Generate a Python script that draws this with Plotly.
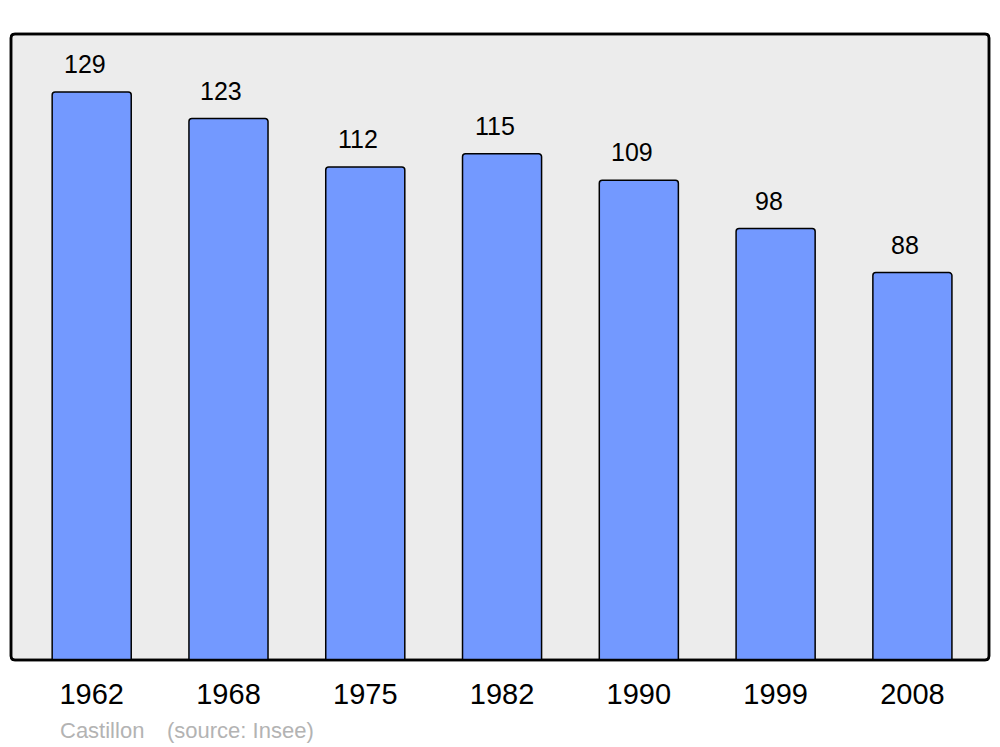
import plotly.graph_objects as go

years = ["1962", "1968", "1975", "1982", "1990", "1999", "2008"]
population = [129, 123, 112, 115, 109, 98, 88]
commune = "Castillon"
source = "(source: Insee)"

# page body has an 8px default margin; compensate so the picture lands at 1000x747 coords
OFF = 8
W, H = 1000 - OFF, 747 - OFF
ml, mr, mt, mb = 11 - OFF, 11, 34 - OFF, 87
pw, ph = W - ml - mr, H - mt - mb
FONT = "Liberation Sans, Arial, sans-serif"

fig = go.Figure()
fig.add_trace(go.Bar(
    x=years, y=population,
    marker=dict(color="#7399ff", line=dict(color="#000000", width=1.5), cornerradius=3),
    hoverinfo="skip",
))

for i, v in enumerate(population):
    fig.add_annotation(x=i, y=v, xref="x", yref="y", text=str(v), showarrow=False,
                       xanchor="center", yanchor="middle", yshift=28, xshift=-7,
                       font=dict(family=FONT, size=25, color="#000000"))

# rounded frame of plot area (paper coords)
r = 4
rx, ry = r / pw, r / ph
path = (f"M {rx},0 L {1-rx},0 Q 1,0 1,{ry} L 1,{1-ry} Q 1,1 {1-rx},1 "
        f"L {rx},1 Q 0,1 0,{1-ry} L 0,{ry} Q 0,0 {rx},0 Z")
fig.add_shape(type="path", path=path, xref="paper", yref="paper",
              fillcolor="#ececec", line=dict(color="#000000", width=2.5), layer="below")
fig.add_shape(type="path", path=path, xref="paper", yref="paper",
              fillcolor="rgba(0,0,0,0)", line=dict(color="#000000", width=2.5), layer="above")

foot_y = (747 - 87 - 730) / ph
fig.add_annotation(x=(58 - 11) / pw, y=foot_y, xref="paper", yref="paper", text=commune,
                   showarrow=False, xanchor="left", yanchor="middle",
                   font=dict(family=FONT, size=22, color="#b3b3b3"))
fig.add_annotation(x=(165 - 11) / pw, y=foot_y, xref="paper", yref="paper", text=source,
                   showarrow=False, xanchor="left", yanchor="middle",
                   font=dict(family=FONT, size=22, color="#b3b3b3"))

fig.update_layout(
    width=W, height=H,
    margin=dict(l=ml, r=mr, t=mt, b=mb),
    paper_bgcolor="#ffffff", plot_bgcolor="rgba(0,0,0,0)",
    bargap=0.422, showlegend=False,
    xaxis=dict(type="category", range=[-0.59, 6.56], showgrid=False, zeroline=False, showline=False,
               ticks="", tickfont=dict(family=FONT, size=29, color="#000000"),
               ticklabelstandoff=14),
    yaxis=dict(range=[0, 142.2], showgrid=False, zeroline=False, showline=False, showticklabels=False,
               ticks=""),
)

fig.write_html("out.html")
